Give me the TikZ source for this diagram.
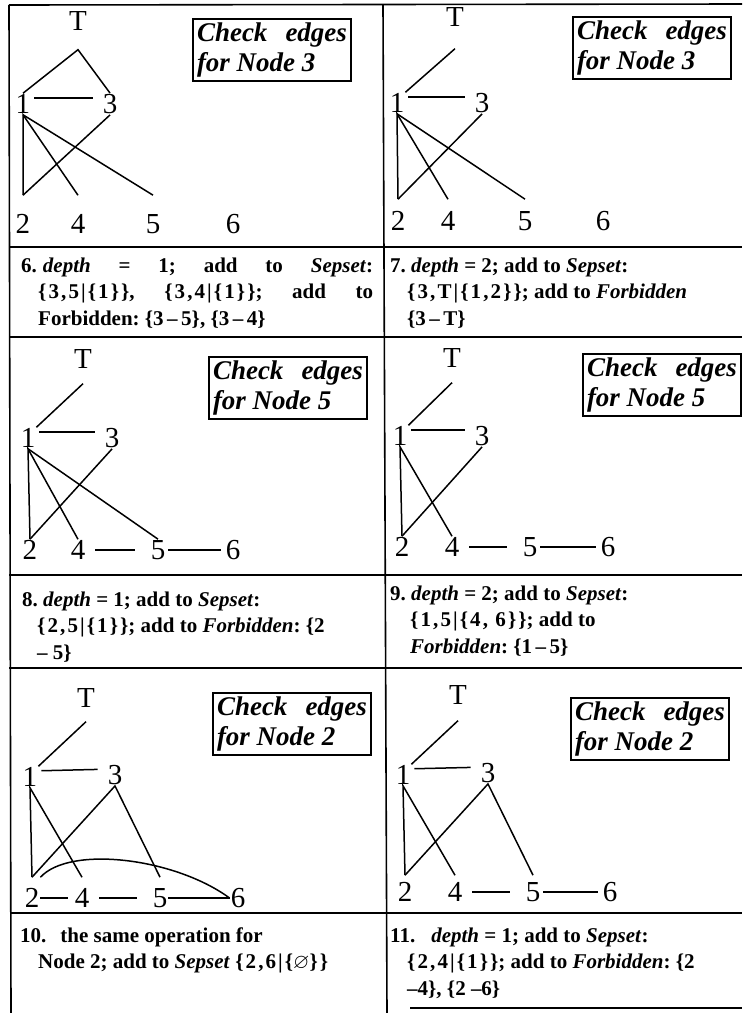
\documentclass[tikz,border=0pt]{standalone}
\usepackage{amssymb}
\usepackage{fontspec}
\setmainfont{Liberation Serif}

% one text cell: width, hanging indent, text
\newcommand{\steppar}[3]{\parbox[t]{#1}{\baselineskip=26.5pt\frenchspacing\hangindent=#2\hangafter=1 #3}}
\newcommand{\grp}[1]{{\addfontfeatures{LetterSpace=10}#1}}

\begin{document}
\begin{tikzpicture}[x=1pt, y=-1pt,
  vlab/.style={font=\fontsize{29}{30}\selectfont, inner sep=1pt},
  tlab/.style={vlab},
  blab/.style={vlab},
  edge/.style={line width=1.5pt},
  across/.style={edge, shorten <=3pt, shorten >=9pt, transform canvas={yshift=6pt}},
  wide/.style={edge, shorten <=9pt, shorten >=15pt},
  tight/.style={edge, shorten <=2pt, shorten >=4pt},
  tabline/.style={line width=1.6pt},
  chkbox/.style={draw, line width=1.1pt, font=\fontsize{27}{30}\selectfont\bfseries\itshape,
    text width=150pt, minimum height=62pt, inner xsep=4pt, inner ysep=2pt, align=justify},
  steptext/.style={anchor=base west, inner sep=0pt, font=\fontsize{21}{27}\selectfont\bfseries}]
  \useasboundingbox (0,0) rectangle (745,1013);

  % table rules
  \draw[tabline] (9,5) -- (742,4);
  \draw[tabline] (9,5) -- (11,1013);
  \draw[tabline] (383,5) -- (387,1013);
  \draw[tabline] (9,247) -- (742,247);
  \draw[tabline] (9,337) -- (742,337);
  \draw[tabline] (9,575) -- (742,575);
  \draw[tabline] (9,668) -- (742,668);
  \draw[tabline] (10,913) -- (742,913);
  \draw[tabline] (410,1008) -- (742,1008);

  % row 1, left
  \begin{scope}[tlab/.append style={inner ysep=19pt}, blab/.append style={inner ysep=19pt}]
    \node[tlab] (aT) at (78,21) {T};
    \node[vlab] (a1) at (23,104) {1};
    \node[vlab] (a3) at (110,104) {3};
    \node[blab] (a2) at (23,224) {2};
    \node[blab] (a4) at (78,224) {4};
    \node[blab] (a5) at (153,224) {5};
    \node[blab] (a6) at (233,224) {6};
    \draw[edge] (a1.north) -- (aT.south) -- (a3.north);
    \draw[across] (a1) -- (a3);
    \draw[edge] (a2.north) -- (a1.south) -- (a4.north);
    \draw[edge] (a1.south) -- (a5.north);
    \draw[edge] (a3.south) -- (a2.north);
    \node[chkbox] (boxa) at (272,50) {Check edges\linebreak for Node 3};
  \end{scope}

  % row 1, right
  \begin{scope}[tlab/.append style={inner ysep=22pt}, blab/.append style={inner ysep=12pt}]
    \node[tlab] (bT) at (455,17) {T};
    \node[vlab] (b1) at (397,103) {1};
    \node[vlab] (b3) at (482,103) {3};
    \node[blab] (b2) at (398,221) {2};
    \node[blab] (b4) at (448,221) {4};
    \node[blab] (b5) at (525,221) {5};
    \node[blab] (b6) at (603,221) {6};
    \draw[edge] (bT.south) -- (b1.north east);
    \draw[across] (b1) -- (b3);
    \draw[edge] (b2.north) -- (b1.south) -- (b4.north);
    \draw[edge] (b1.south) -- (b5.north);
    \draw[edge] (b3.south) -- (b2.north);
    \node[chkbox] (boxb) at (652,48) {Check edges\linebreak for Node 3};
  \end{scope}

  \node[steptext] (step6) at (21,272) {\steppar{352pt}{17pt}{%
    6.\hspace{6pt}\textit{depth} = 1; add to \textit{Sepset}:\linebreak
    \grp{\{3,5|\{1\}\}}, \grp{\{3,4|\{1\}\}}; add to\linebreak
    Forbidden: \{3\,--\,5\}, \{3\,--\,4\}}};
  \node[steptext] (step7) at (390,272) {\steppar{350pt}{17pt}{%
    7. \textit{depth} = 2; add to \textit{Sepset}:\newline
    \grp{\{3,T|\{1,2\}\}}; add to \textit{Forbidden}\newline
    \{3\,--\,T\}}};

  % row 2, left
  \begin{scope}[tlab/.append style={inner ysep=15pt}]
    \node[tlab] (cT) at (83,359) {T};
    \node[vlab] (c1) at (28,438) {1};
    \node[vlab] (c3) at (112,438) {3};
    \node[blab] (c2) at (30,550) {2};
    \node[blab] (c4) at (78,550) {4};
    \node[blab] (c5) at (158,550) {5};
    \node[blab] (c6) at (233,550) {6};
    \draw[edge] (cT.south) -- (c1.north east);
    \draw[across] (c1) -- (c3);
    \draw[edge] (c2.north) -- (c1.south) -- (c4.north);
    \draw[edge] (c1.south) -- (c5.north);
    \draw[edge] (c3.south) -- (c2.north);
    \draw[wide] (c4) -- (c5);
    \draw[tight] (c5) -- (c6);
    \node[chkbox] (boxc) at (288,388) {Check edges\linebreak for Node 5};
  \end{scope}

  % row 2, right
  \begin{scope}[tlab/.append style={inner ysep=15pt}]
    \node[tlab] (dT) at (452,358) {T};
    \node[vlab] (d1) at (400,436) {1};
    \node[vlab] (d3) at (482,436) {3};
    \node[blab] (d2) at (402,547) {2};
    \node[blab] (d4) at (452,547) {4};
    \node[blab] (d5) at (530,547) {5};
    \node[blab] (d6) at (608,547) {6};
    \draw[edge] (dT.south) -- (d1.north east);
    \draw[across] (d1) -- (d3);
    \draw[edge] (d2.north) -- (d1.south) -- (d4.north);
    \draw[edge] (d3.south) -- (d2.north);
    \draw[wide] (d4) -- (d5);
    \draw[tight] (d5) -- (d6);
    \node[chkbox] (boxd) at (662,385) {Check edges\linebreak for Node 5};
  \end{scope}

  \node[steptext] (step8) at (22,606) {\steppar{350pt}{15pt}{%
    8. \textit{depth} = 1; add to \textit{Sepset}:\newline
    \grp{\{2,5|\{1\}\}}; add to \textit{Forbidden}: \{2\newline
    -- 5\}}};
  \node[steptext] (step9) at (390,600) {\steppar{350pt}{20pt}{%
    9. \textit{depth} = 2; add to \textit{Sepset}:\newline
    \grp{\{1,5|\{4, 6\}\}}; add to\newline
    \textit{Forbidden}: \{1\,--\,5\}}};

  % row 3, left
  \begin{scope}[tlab/.append style={inner ysep=14pt}, blab/.append style={inner ysep=11pt}]
    \node[tlab] (eT) at (86,698) {T};
    \node[vlab] (e1) at (30,777) {1};
    \node[vlab] (e3) at (115,775) {3};
    \node[blab] (e2) at (32,898) {2};
    \node[blab] (e4) at (82,898) {4};
    \node[blab] (e5) at (160,898) {5};
    \node[blab] (e6) at (238,898) {6};
    \draw[edge] (eT.south) -- (e1.north east);
    \draw[across] (e1) -- (e3);
    \draw[edge] (e2.north) -- (e1.south) -- (e4.north);
    \draw[edge] (e2.north) -- (e3.south) -- (e5.north);
    \draw[edge, shorten >=6pt] (e2) -- (e4);
    \draw[wide] (e4) -- (e5);
    \draw[edge] (e5) -- (e6);
    \draw[edge] (e2.north east) .. controls (70,845) and (175,858) .. (e6.west);
    \node[chkbox] (boxe) at (292,724) {Check edges\linebreak for Node 2};
  \end{scope}

  % row 3, right
  \begin{scope}[tlab/.append style={inner ysep=16pt}, blab/.append style={inner ysep=7pt}]
    \node[tlab] (fT) at (458,695) {T};
    \node[vlab] (f1) at (403,775) {1};
    \node[vlab] (f3) at (488,773) {3};
    \node[blab] (f2) at (405,892) {2};
    \node[blab] (f4) at (455,892) {4};
    \node[blab] (f5) at (533,892) {5};
    \node[blab] (f6) at (610,892) {6};
    \draw[edge] (fT.south) -- (f1.north east);
    \draw[across] (f1) -- (f3);
    \draw[edge] (f2.north) -- (f1.south) -- (f4.north);
    \draw[edge] (f2.north) -- (f3.south) -- (f5.north);
    \draw[wide] (f4) -- (f5);
    \draw[tight] (f5) -- (f6);
    \node[chkbox] (boxf) at (650,729) {Check edges\linebreak for Node 2};
  \end{scope}

  \node[steptext] (step10) at (20,942) {\steppar{350pt}{18pt}{%
    10.\hspace{14pt}the same operation for\newline
    Node 2; add to \textit{Sepset} \grp{\{2,6|\{$\varnothing$\}\}}}};
  \node[steptext] (step11) at (390,942) {\steppar{350pt}{17pt}{%
    11.\hspace{16pt}\textit{depth} = 1; add to \textit{Sepset}:\newline
    \grp{\{2,4|\{1\}\}}; add to \textit{Forbidden}: \{2\newline
    --4\}, \{2 --6\}}};
\end{tikzpicture}
\end{document}
